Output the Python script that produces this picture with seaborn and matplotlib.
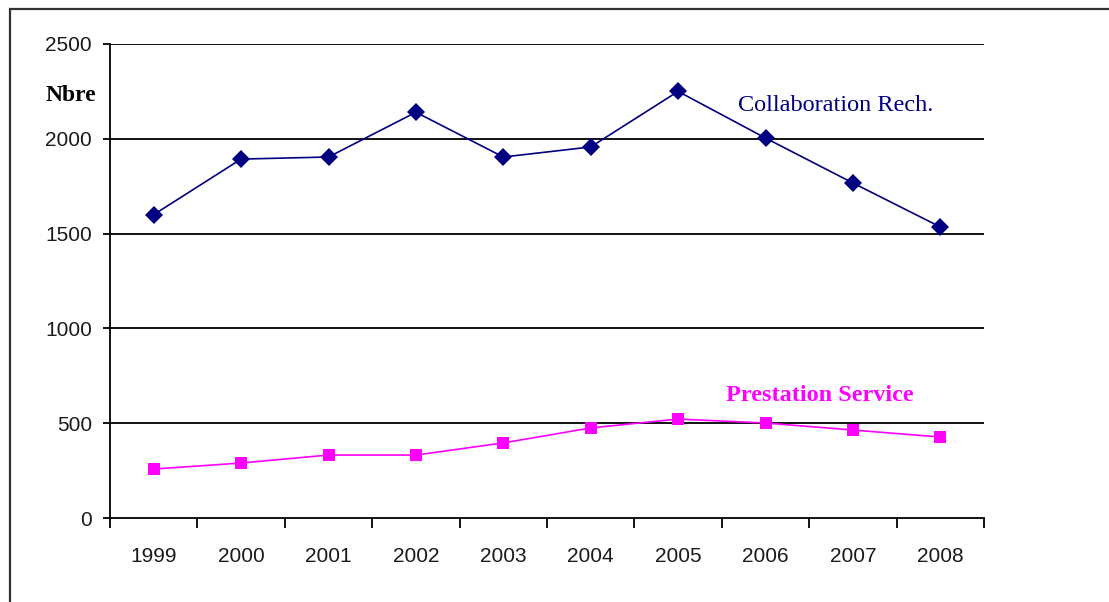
import matplotlib
matplotlib.use("Agg")
import matplotlib.pyplot as plt
import matplotlib.patches as mpatches
import seaborn as sns
import pandas as pd
import numpy as np

years = [1999, 2000, 2001, 2002, 2003, 2004, 2005, 2006, 2007, 2008]
collaboration = [1600, 1893, 1904, 2140, 1904, 1957, 2250, 2004, 1767, 1535]
prestation = [258, 290, 332, 332, 396, 475, 522, 501, 464, 427]
series_names = ["Collaboration Rech.", "Prestation Service"]
y_ticks = [0, 500, 1000, 1500, 2000, 2500]

df = pd.DataFrame({
    "year": years * 2,
    "value": collaboration + prestation,
    "series": [series_names[0]] * len(years) + [series_names[1]] * len(years),
})

sns.set_theme(style="white")
plt.rcParams["font.family"] = ["Liberation Sans", "DejaVu Sans"]

W, H = 1109, 602
fig = plt.figure(figsize=(W / 100, H / 100), dpi=100)
ax = fig.add_axes([110 / W, 1 - 518 / H, (984 - 110) / W, (518 - 44) / H])

palette = {series_names[0]: "#000080", series_names[1]: "#FF00FF"}
markers = {series_names[0]: "D", series_names[1]: "s"}
sns.lineplot(data=df, x="year", y="value", hue="series", style="series",
             palette=palette, markers=markers, dashes=False, markersize=9,
             markeredgewidth=0, linewidth=1.2, legend=False, ax=ax, zorder=3)

ax.set_xlim(years[0] - 0.5, years[-1] + 0.5)
ax.set_ylim(0, 2500)
ax.set_yticks(y_ticks)
ax.set_yticklabels([str(t) for t in y_ticks])
ax.set_xticks(years)
ax.set_xticklabels([str(y) for y in years])
ax.set_xticks(np.arange(years[0] - 0.5, years[-1] + 0.6, 1.0), minor=True)
ax.set_xlabel("")
ax.set_ylabel("")

for t in y_ticks[1:]:
    ax.axhline(t, color="black", lw=1.3, zorder=1)

for side in ["top", "right"]:
    ax.spines[side].set_visible(False)
for side in ["left", "bottom"]:
    ax.spines[side].set_color("black")
    ax.spines[side].set_linewidth(1.3)

ax.tick_params(axis="y", which="major", direction="out", length=5, width=1.3,
               color="black", left=True, labelsize=15, pad=8, labelcolor="#1a1a1a")
ax.tick_params(axis="x", which="major", length=0, labelsize=15, pad=21,
               labelcolor="#1a1a1a")
ax.tick_params(axis="x", which="minor", direction="out", length=7, width=1.3,
               color="black", bottom=True)

serif = ["Liberation Serif", "DejaVu Serif"]
fig.text(71 / W, 1 - 96 / H, "Nbre", ha="center", va="center",
         fontsize=17, fontweight="bold", family=serif, color="black")
ax.text(2005.68, 2178, series_names[0], ha="left", va="center",
        fontsize=17.5, family=serif, color="#000080")
ax.text(2005.55, 645, series_names[1], ha="left", va="center",
        fontsize=17.5, fontweight="bold", family=serif, color="#FF00FF")

# outer frame around the chart area
frame = mpatches.Rectangle((10 / W, -0.05), 1.2, 1 - 9 / H + 0.05,
                           transform=fig.transFigure, fill=False,
                           edgecolor="#333333", lw=1.6, clip_on=False)
fig.patches.append(frame)

fig.savefig("out.png", dpi=100)
